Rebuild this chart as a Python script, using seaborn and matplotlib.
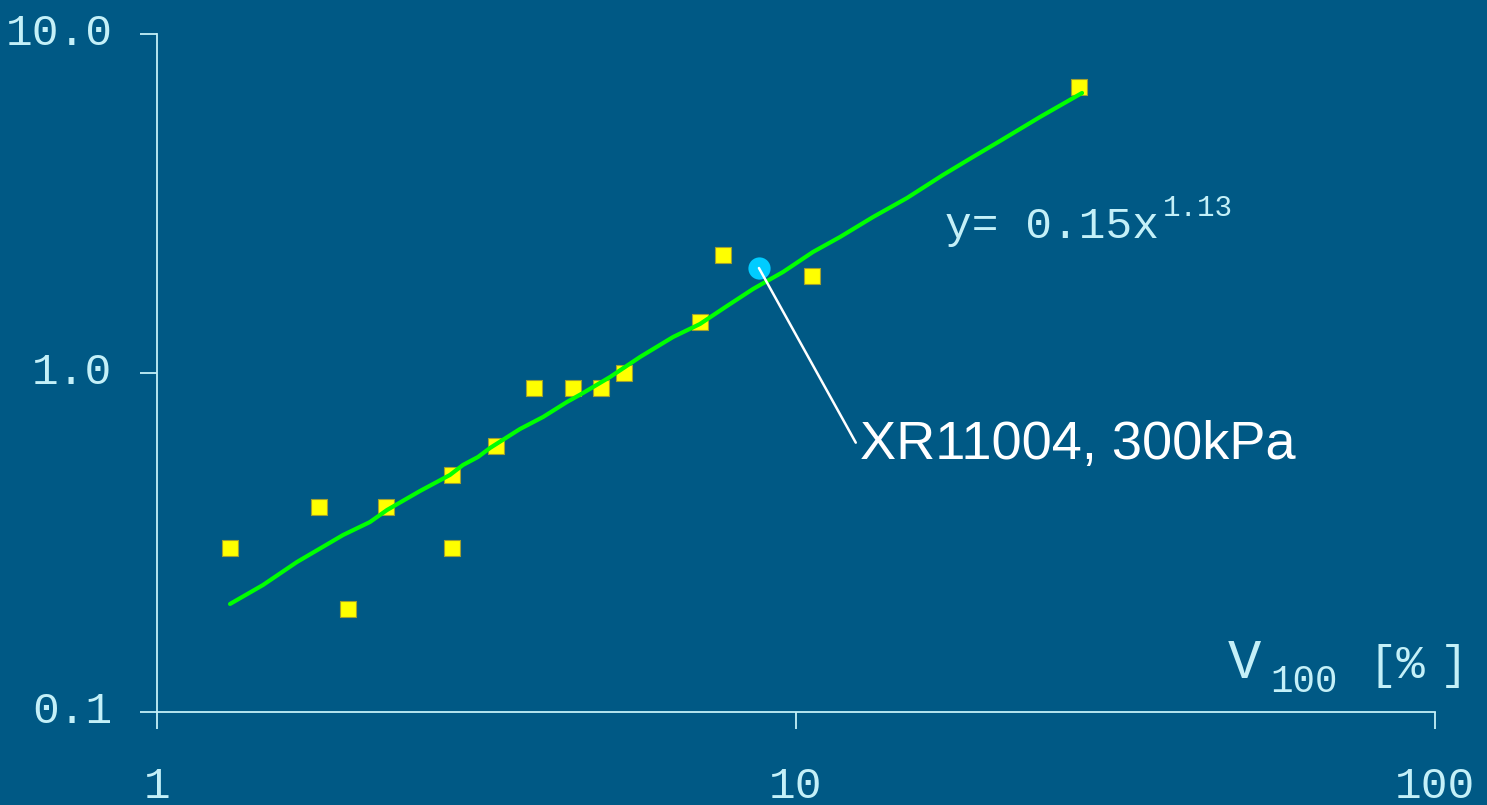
import matplotlib
matplotlib.use("Agg")
import matplotlib.pyplot as plt
import matplotlib.ticker as mticker
import matplotlib.transforms as mtransforms
import seaborn as sns
import pandas as pd

# Measured spray data: V100 [%] against drift value
v100 = [1.30, 1.79, 1.99, 2.28, 2.89, 2.89, 3.39, 3.89, 4.48, 4.95, 5.38,
        7.07, 7.69, 10.6, 27.7]
drift = [0.305, 0.402, 0.201, 0.402, 0.50, 0.305, 0.609, 0.903, 0.903, 0.903,
         1.0, 1.414, 2.23, 1.93, 6.98]

# Fitted power curve y = 0.15 x^1.13 as plotted
fit_x = [1.301, 1.465, 1.656, 1.955, 2.154, 2.291, 2.580, 2.874, 3.012, 3.179,
         3.320, 3.699, 4.019, 4.381, 4.642, 5.117, 5.701, 6.421, 7.075, 7.798,
         8.564, 9.543, 10.63, 11.72, 13.20, 14.92, 16.98, 18.92, 20.86, 24.09,
         28.03]
fit_y = [0.2083, 0.2369, 0.2770, 0.3327, 0.3634, 0.3944, 0.4487, 0.5004, 0.5354,
         0.5652, 0.6009, 0.6836, 0.7417, 0.8212, 0.8730, 0.9732, 1.115, 1.277,
         1.395, 1.576, 1.769, 1.986, 2.275, 2.519, 2.885, 3.283, 3.838, 4.338,
         4.836, 5.691, 6.699]

# Reference nozzle
ref_x = [8.75]
ref_y = [2.04]
ref_label = "XR11004, 300kPa"

x_ticks = [1, 10, 100]
x_tick_labels = ["1", "10", "100"]
y_ticks = [0.1, 1, 10]
y_tick_labels = ["0.1", "1.0", "10.0"]

BG = "#005985"
FG = "#c4f0f8"
MONO = "Liberation Mono"

sns.set_style("ticks")
plt.rcParams["font.family"] = [MONO, "DejaVu Sans"]

fig = plt.figure(figsize=(14.87, 8.05), dpi=100, facecolor=BG)
ax = fig.add_axes([157 / 1487, 1 - 712 / 805, (1435 - 157) / 1487, (712 - 34) / 805])
ax.set_facecolor(BG)

ax.set_xscale("log")
ax.set_yscale("log")

pts = pd.DataFrame({"x": v100, "y": drift})
sns.scatterplot(data=pts, x="x", y="y", ax=ax, marker="s", s=125,
                color="#ffff00", edgecolor="#a0a030", linewidth=0.8, zorder=3)

fit = pd.DataFrame({"x": fit_x, "y": fit_y})
sns.lineplot(data=fit, x="x", y="y", ax=ax, sort=False, estimator=None,
             color="#00ff00", linewidth=3.0, zorder=4)

ax.plot(ref_x, ref_y, "o", color="#00ccff", markersize=16, zorder=5,
        markeredgewidth=0)

ax.annotate(ref_label, xy=(ref_x[0], ref_y[0]), xytext=(12.6, 0.557),
            textcoords="data", fontsize=39, color="white",
            family=["Liberation Sans", "DejaVu Sans"], ha="left", va="baseline",
            arrowprops=dict(arrowstyle="-", color="white", lw=1.8,
                            shrinkA=0, shrinkB=0,
                            relpos=(-0.01, 0.55)),
            zorder=6)

ax.set_xlim(1, 100)
ax.set_ylim(0.1, 10)
ax.xaxis.set_major_locator(mticker.FixedLocator(x_ticks))
ax.xaxis.set_major_formatter(mticker.FixedFormatter(x_tick_labels))
ax.yaxis.set_major_locator(mticker.FixedLocator(y_ticks))
ax.yaxis.set_major_formatter(mticker.FixedFormatter(y_tick_labels))
ax.xaxis.set_minor_locator(mticker.NullLocator())
ax.yaxis.set_minor_locator(mticker.NullLocator())

for side in ("top", "right"):
    ax.spines[side].set_visible(False)
for side in ("left", "bottom"):
    ax.spines[side].set_color(FG)
    ax.spines[side].set_linewidth(1.3)

ax.tick_params(axis="both", which="major", direction="out", length=12,
               width=1.3, color=FG, labelcolor=FG, labelsize=32)
ax.tick_params(axis="y", pad=20)
ax.tick_params(axis="x", pad=27)
ax.set_xlabel("")
ax.set_ylabel("")

# nudge the y tick labels slightly upward
lift = mtransforms.ScaledTranslation(0, 5 / 100, fig.dpi_scale_trans)
for lbl in ax.get_yticklabels():
    lbl.set_transform(lbl.get_transform() + lift)

# Fit equation
fig.text(945 / 1487, 1 - 238 / 805, "y= 0.15x", fontsize=32, color=FG,
         ha="left", va="baseline")
fig.text(1163 / 1487, 1 - 216 / 805, "1.13", fontsize=21, color=FG,
         ha="left", va="baseline")

# Axis label V100 [%]
fig.text(1228 / 1487, 1 - 678 / 805, "V", fontsize=40, color=FG,
         ha="left", va="baseline")
fig.text(1270 / 1487, 1 - 692 / 805, "100", fontsize=27, color=FG,
         ha="left", va="baseline")
fig.text(1368 / 1487, 1 - 678 / 805, "[%", fontsize=34, color=FG,
         ha="left", va="baseline")
fig.text(1440 / 1487, 1 - 678 / 805, "]", fontsize=34, color=FG,
         ha="left", va="baseline")

fig.savefig("out.png", dpi=100, facecolor=BG)
